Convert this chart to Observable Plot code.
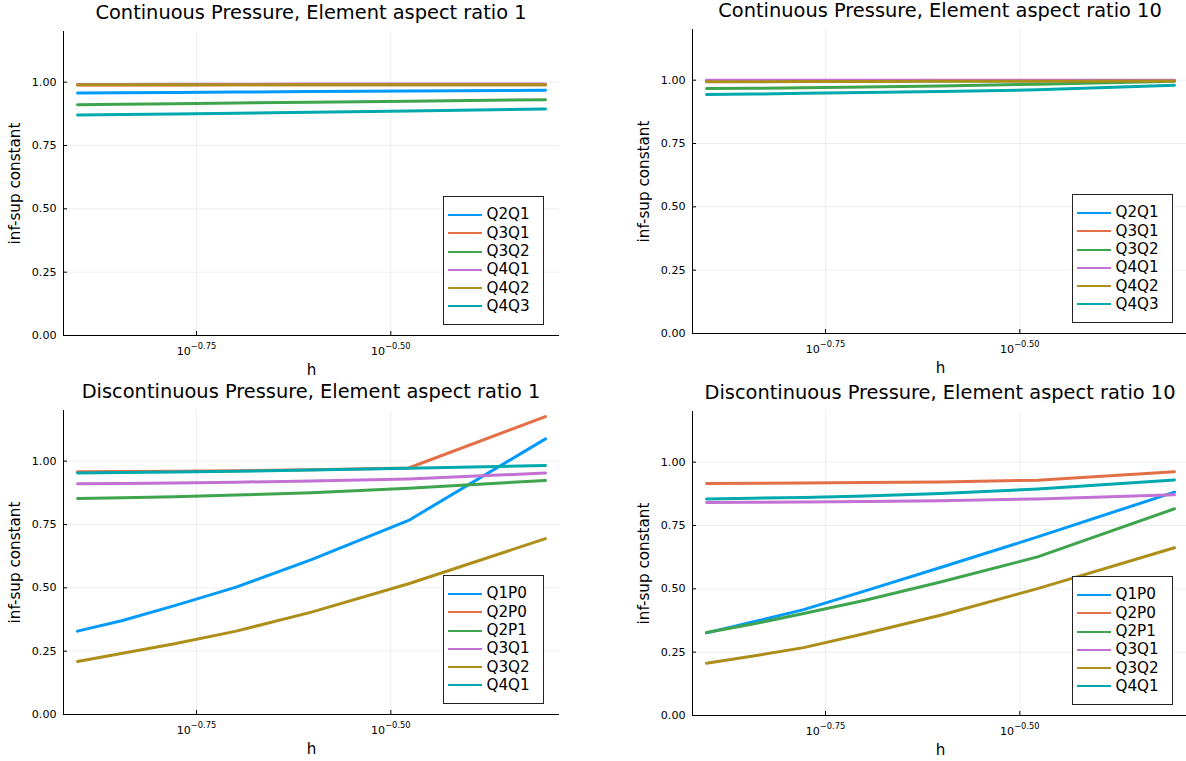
<!DOCTYPE html>
<html>
<head>
<meta charset="utf-8">
<script src="https://cdn.jsdelivr.net/npm/d3@7"></script>
<script src="https://cdn.jsdelivr.net/npm/@observablehq/plot@0.6"></script>
<style>
  body { margin: 0; background: #fff; }
  #chart { position: relative; width: 1186px; height: 761px; overflow: hidden; background: #fff;
           font-family: "DejaVu Sans", sans-serif; color: #000; }
  .panel-title { position: absolute; font-size: 19.4px; line-height: 1; white-space: nowrap;
                 transform: translateX(-50%); }
  .plot { position: absolute; display: block; }
  .plot g[aria-label="x-axis label"], .plot g[aria-label="y-axis label"] { font-size: 15.2px; }
  .legend { position: absolute; box-sizing: border-box; width: 101px; height: 129px;
            border: 1px solid #222; background: #fff; padding-top: 8.85px; }
  .legend-row { display: flex; align-items: center; height: 18.3px; font-size: 15.2px; line-height: 1; }
  .legend-swatch { width: 34px; height: 0; border-top: 2px solid; margin-left: 4px; margin-right: 5px; }
</style>
</head>
<body>
<div id="chart"></div>
<script>
// Mesh sizes h (one value per refinement level)
const hValues = [1/8, 1/7, 1/6, 1/5, 1/4, 1/3, 1/2];

// Axis ticks
const xTicks = [10 ** -0.75, 10 ** -0.5];
const yTicks = [0, 0.25, 0.5, 0.75, 1.0];

// Default series colours
const palette = ["#009AFA", "#E36F47", "#3EA44E", "#C371D2", "#AC8E18", "#00A9AD"];

// Element pairs
const continuousSeries = ["Q2Q1", "Q3Q1", "Q3Q2", "Q4Q1", "Q4Q2", "Q4Q3"];
const discontinuousSeries = ["Q1P0", "Q2P0", "Q2P1", "Q3Q1", "Q3Q2", "Q4Q1"];

// inf-sup constants, continuous pressure, aspect ratio 1
const contAR1 = [
  [0.957, 0.958, 0.959, 0.961, 0.963, 0.965, 0.968],
  [0.989, 0.989, 0.989, 0.990, 0.990, 0.990, 0.990],
  [0.911, 0.913, 0.915, 0.918, 0.921, 0.925, 0.931],
  [0.991, 0.991, 0.992, 0.992, 0.993, 0.993, 0.993],
  [0.990, 0.990, 0.990, 0.990, 0.990, 0.990, 0.990],
  [0.870, 0.872, 0.874, 0.877, 0.881, 0.886, 0.894]
];

// inf-sup constants, continuous pressure, aspect ratio 10
const contAR10 = [
  [0.996, 0.996, 0.997, 0.997, 0.998, 0.998, 0.999],
  [0.999, 0.999, 0.999, 0.999, 0.999, 0.999, 0.999],
  [0.967, 0.968, 0.970, 0.973, 0.977, 0.984, 0.996],
  [0.9995, 0.9995, 0.9995, 0.9995, 0.9995, 0.9995, 0.9995],
  [0.994, 0.994, 0.995, 0.995, 0.996, 0.996, 0.997],
  [0.943, 0.945, 0.948, 0.951, 0.955, 0.962, 0.980]
];

// inf-sup constants, discontinuous pressure, aspect ratio 1
const discAR1 = [
  [0.329, 0.371, 0.430, 0.503, 0.611, 0.766, 1.088],
  [0.958, 0.959, 0.960, 0.962, 0.966, 0.973, 1.176],
  [0.853, 0.856, 0.860, 0.866, 0.875, 0.893, 0.924],
  [0.911, 0.912, 0.914, 0.917, 0.922, 0.930, 0.953],
  [0.209, 0.242, 0.279, 0.329, 0.404, 0.516, 0.694],
  [0.953, 0.955, 0.957, 0.960, 0.965, 0.972, 0.983]
];

// inf-sup constants, discontinuous pressure, aspect ratio 10
const discAR10 = [
  [0.326, 0.368, 0.418, 0.492, 0.584, 0.705, 0.882],
  [0.916, 0.917, 0.918, 0.920, 0.922, 0.929, 0.962],
  [0.328, 0.360, 0.403, 0.455, 0.527, 0.626, 0.816],
  [0.841, 0.842, 0.843, 0.845, 0.848, 0.855, 0.871],
  [0.206, 0.234, 0.268, 0.324, 0.396, 0.501, 0.662],
  [0.855, 0.858, 0.861, 0.866, 0.876, 0.894, 0.930]
];

// Log-scale x domain widened by 3% of the data range on each side
const logMin = Math.log10(d3.min(hValues));
const logMax = Math.log10(d3.max(hValues));
const pad = 0.03 * (logMax - logMin);
const xDomain = [10 ** (logMin - pad), 10 ** (logMax + pad)];

// Panel layout (plot-frame corners in page pixels)
const FRAME_W = 496, FRAME_H = 304;
const M = {left: 63, right: 8, top: 8, bottom: 48};
const panels = [
  {title: "Continuous Pressure, Element aspect ratio 1", series: continuousSeries, values: contAR1, left: 63, top: 31},
  {title: "Continuous Pressure, Element aspect ratio 10", series: continuousSeries, values: contAR10, left: 692, top: 29},
  {title: "Discontinuous Pressure, Element aspect ratio 1", series: discontinuousSeries, values: discAR1, left: 63, top: 410},
  {title: "Discontinuous Pressure, Element aspect ratio 10", series: discontinuousSeries, values: discAR10, left: 692, top: 411}
];

const chart = document.getElementById("chart");
const SVG_NS = "http://www.w3.org/2000/svg";

function expLabel(d) {
  const e = Math.log10(d).toFixed(2).replace("-", "\u2212");
  return "10^" + e;
}

for (const p of panels) {
  const rows = p.series.flatMap((name, i) =>
    p.values[i].map((v, j) => ({h: hValues[j], value: v, series: name}))
  );

  const svg = Plot.plot({
    width: M.left + FRAME_W + M.right,
    height: M.top + FRAME_H + M.bottom,
    marginLeft: M.left, marginRight: M.right, marginTop: M.top, marginBottom: M.bottom,
    style: {fontFamily: "DejaVu Sans", fontSize: "11.1px", color: "#000", background: "transparent"},
    x: {type: "log", domain: xDomain},
    y: {domain: [0, 1.2]},
    color: {domain: p.series, range: palette},
    marks: [
      Plot.gridX(xTicks, {stroke: "#000", strokeOpacity: 0.07}),
      Plot.gridY(yTicks.slice(1), {stroke: "#000", strokeOpacity: 0.07}),
      // inward tick marks
      Plot.axisX(xTicks, {tickSize: 4, dy: -4, fill: "none", stroke: "#000"}),
      Plot.axisY(yTicks, {tickSize: 4, dx: 4, fill: "none", stroke: "#000"}),
      // tick labels and axis titles
      Plot.axisX(xTicks, {
        tickSize: 0, tickPadding: 12, tickFormat: expLabel,
        label: "h", labelAnchor: "center", labelArrow: "none", labelOffset: 39.5
      }),
      Plot.axisY(yTicks, {
        tickSize: 0, tickPadding: 7, tickFormat: d3.format(".2f"),
        label: "inf-sup constant", labelAnchor: "center", labelArrow: "none", labelOffset: 54
      }),
      Plot.ruleX([xDomain[0]], {stroke: "#000"}),
      Plot.ruleY([0], {stroke: "#000"}),
      Plot.line(rows, {
        x: "h", y: "value", z: "series", stroke: "series",
        strokeWidth: 3, strokeLinecap: "round", strokeLinejoin: "round"
      })
    ]
  });

  // render exponent part of x tick labels as superscript
  svg.querySelectorAll('g[aria-label="x-axis tick label"] text').forEach(t => {
    const [base, exp] = t.textContent.split("^");
    t.textContent = "";
    const b = document.createElementNS(SVG_NS, "tspan");
    b.textContent = base;
    const s = document.createElementNS(SVG_NS, "tspan");
    s.setAttribute("dy", "-6.5");
    s.setAttribute("font-size", "8.3");
    s.textContent = exp;
    t.append(b, s);
  });

  svg.classList.add("plot");
  svg.style.left = (p.left - M.left) + "px";
  svg.style.top = (p.top - M.top) + "px";
  chart.appendChild(svg);

  const title = document.createElement("div");
  title.className = "panel-title";
  title.textContent = p.title;
  title.style.left = (p.left + FRAME_W / 2) + "px";
  title.style.top = (p.top - 11.5 - 16.4) + "px";
  chart.appendChild(title);

  const legend = document.createElement("div");
  legend.className = "legend";
  legend.style.left = (p.left + FRAME_W - 15.5 - 101) + "px";
  legend.style.top = (p.top + FRAME_H - 10 - 129) + "px";
  p.series.forEach((name, i) => {
    const row = document.createElement("div");
    row.className = "legend-row";
    const sw = document.createElement("div");
    sw.className = "legend-swatch";
    sw.style.borderTopColor = palette[i];
    const label = document.createElement("span");
    label.textContent = name;
    row.append(sw, label);
    legend.appendChild(row);
  });
  chart.appendChild(legend);
}
</script>
</body>
</html>
